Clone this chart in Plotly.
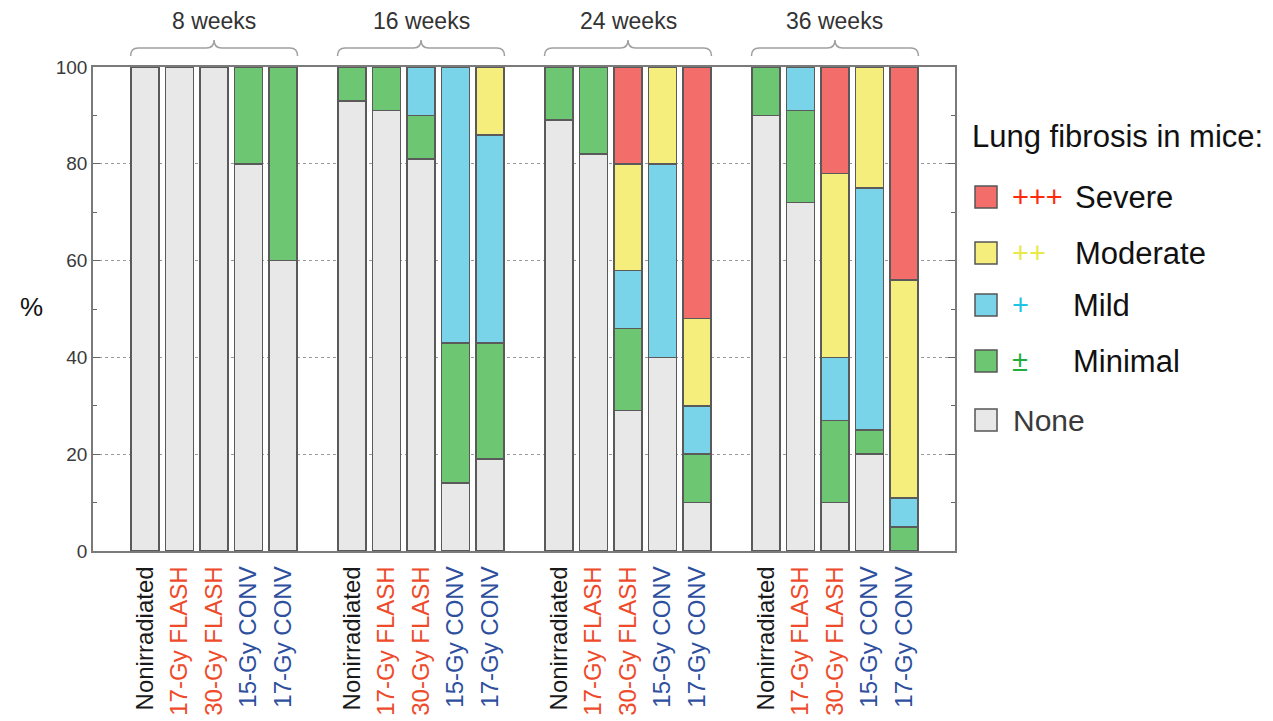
import plotly.graph_objects as go

# ---------------- data ----------------
groups = ["8 weeks", "16 weeks", "24 weeks", "36 weeks"]
treatments = ["Nonirradiated", "17-Gy FLASH", "30-Gy FLASH", "15-Gy CONV", "17-Gy CONV"]
treatment_colors = ["#1a1a1a", "#EE4B2B", "#EE4B2B", "#2E4F9E", "#2E4F9E"]

# one value per bar: groups x treatments (in order above)
none_pct     = [100, 100, 100, 80, 60,   93, 91, 81, 14, 19,   89, 82, 29, 40, 10,   90, 72, 10, 20, 0]
minimal_pct  = [0, 0, 0, 20, 40,         7, 9, 9, 29, 24,      11, 18, 17, 0, 10,    10, 19, 17, 5, 5]
mild_pct     = [0, 0, 0, 0, 0,           0, 0, 10, 57, 43,     0, 0, 12, 40, 10,     0, 9, 13, 50, 6]
moderate_pct = [0, 0, 0, 0, 0,           0, 0, 0, 0, 14,       0, 0, 22, 20, 18,     0, 0, 38, 25, 45]
severe_pct   = [0, 0, 0, 0, 0,           0, 0, 0, 0, 0,        0, 0, 20, 0, 52,      0, 0, 22, 0, 44]

severity_names = ["Severe", "Moderate", "Mild", "Minimal", "None"]
severity_symbols = ["+++", "++", "+", "±", ""]
severity_fill = ["#F36D6A", "#F6EE7C", "#79D3E9", "#6DC672", "#E8E8E8"]
symbol_colors = ["#FF2A0A", "#E9E94A", "#1FC3E6", "#1FAE3C", "#333333"]

y_ticks = [0, 20, 40, 60, 80, 100]
y_label = "%"
legend_title = "Lung fibrosis in mice:"

# ---------------- layout helpers ----------------
FONT = "Liberation Sans, Arial, Helvetica, sans-serif"
OFF = 8                      # page body margin offset in the browser
W, H = 1273 - OFF, 721 - OFF
# plot area in screen pixels
SL, SR, ST, SB = 93, 955, 67, 551
L, R, T, B = SL - OFF, SR - OFF, ST - OFF, SB - OFF


def px2x(px):
    return (px - SL) / (SR - SL)


def py2y(py):
    return (SB - py) / (SB - ST)


n_t = len(treatments)
slot = n_t + 1
xpos, tick_text = [], []
for g in range(len(groups)):
    for t in range(n_t):
        xpos.append(g * slot + t)
        tick_text.append(f'<span style="color:{treatment_colors[t]}">{treatments[t]}</span>')

series = [
    ("None", none_pct, severity_fill[4]),
    ("Minimal", minimal_pct, severity_fill[3]),
    ("Mild", mild_pct, severity_fill[2]),
    ("Moderate", moderate_pct, severity_fill[1]),
    ("Severe", severe_pct, severity_fill[0]),
]

fig = go.Figure()
for name, vals, col in series:
    fig.add_trace(go.Bar(
        x=xpos,
        y=[v if v else None for v in vals],
        name=name,
        marker=dict(color=col, line=dict(color="#5a5a5a", width=1.5)),
        showlegend=False,
        hovertemplate=name + ": %{y}%<extra></extra>",
    ))

shapes = []
annotations = []

# group braces and labels
ye, yl, yp = py2y(56), py2y(48), py2y(40)
for g, gname in enumerate(groups):
    xa = g * slot - 0.42
    xb = g * slot + n_t - 1 + 0.42
    xm = (xa + xb) / 2
    r = 0.22
    path = (f"M {xa},{ye} Q {xa},{yl} {xa + r},{yl} L {xm - r},{yl} "
            f"Q {xm},{yl} {xm},{yp} Q {xm},{yl} {xm + r},{yl} "
            f"L {xb - r},{yl} Q {xb},{yl} {xb},{ye}")
    shapes.append(dict(type="path", path=path, xref="x", yref="paper",
                       line=dict(color="#A0A0A0", width=1.5)))
    annotations.append(dict(x=xm, xref="x", y=py2y(21), yref="paper",
                            text=gname, showarrow=False,
                            font=dict(family=FONT, size=23, color="#333333"),
                            xanchor="center", yanchor="middle"))

# y label
annotations.append(dict(x=px2x(31), y=py2y(307), xref="paper", yref="paper",
                        text=y_label, showarrow=False,
                        font=dict(family=FONT, size=26, color="#111111"),
                        xanchor="center", yanchor="middle"))

# legend (custom)
annotations.append(dict(x=px2x(970), y=py2y(136), xref="paper", yref="paper",
                        text=legend_title, showarrow=False,
                        font=dict(family=FONT, size=31, color="#111111"),
                        xanchor="left", yanchor="middle"))
row_y = [197, 253, 305, 361, 420]
sym_x = [1037, 1029, 1020, 1020]
name_x = [1073, 1073, 1071, 1071]
for i, nm in enumerate(severity_names):
    cy = row_y[i]
    shapes.append(dict(type="rect", xref="paper", yref="paper",
                       x0=px2x(975), x1=px2x(997), y0=py2y(cy + 11), y1=py2y(cy - 11),
                       fillcolor=severity_fill[i], line=dict(color="#555555", width=1.5)))
    if i < 4:
        annotations.append(dict(x=px2x(sym_x[i]), y=py2y(cy), xref="paper", yref="paper",
                                text=severity_symbols[i], showarrow=False,
                                font=dict(family=FONT, size=29, color=symbol_colors[i]),
                                xanchor="center", yanchor="middle"))
        annotations.append(dict(x=px2x(name_x[i]), y=py2y(cy), xref="paper", yref="paper",
                                text=nm, showarrow=False,
                                font=dict(family=FONT, size=31, color="#111111"),
                                xanchor="left", yanchor="middle"))
    else:
        annotations.append(dict(x=px2x(1011), y=py2y(cy), xref="paper", yref="paper",
                                text=nm, showarrow=False,
                                font=dict(family=FONT, size=30, color="#3a3a3a"),
                                xanchor="left", yanchor="middle"))

fig.update_layout(
    width=W, height=H,
    margin=dict(l=L, r=W - R, t=T, b=H - B, pad=0, autoexpand=False),
    paper_bgcolor="white", plot_bgcolor="white",
    barmode="stack", bargap=0.19,
    shapes=shapes, annotations=annotations,
    font=dict(family=FONT),
)
fig.update_xaxes(
    range=[-1.51, 23.48], automargin=False,
    tickmode="array", tickvals=xpos, ticktext=tick_text, tickangle=-90,
    tickfont=dict(family=FONT, size=24),
    ticks="", showgrid=False, zeroline=False,
    showline=True, linecolor="#7a7a7a", linewidth=1.5, mirror=True,
    ticklabelstandoff=4,
)
fig.update_yaxes(
    range=[0, 100], automargin=False,
    tickmode="array", tickvals=y_ticks,
    tickfont=dict(family=FONT, size=19, color="#3a3a3a"),
    ticks="inside", ticklen=7, tickcolor="#666666", tickwidth=1,
    minor=dict(ticks="inside", ticklen=4, dtick=10, tickcolor="#666666", showgrid=False),
    showgrid=True, gridcolor="#9a9a9a", griddash="dot", gridwidth=1,
    zeroline=False,
    showline=True, linecolor="#7a7a7a", linewidth=1.5, mirror="ticks",
)

fig.write_html("out.html")
